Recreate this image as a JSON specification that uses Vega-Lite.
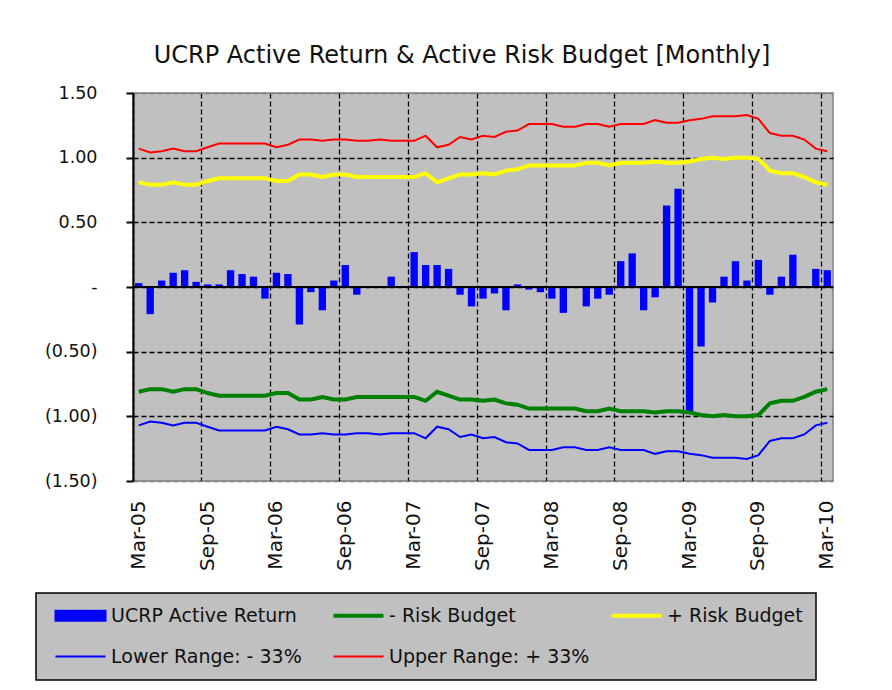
{
  "$schema": "https://vega.github.io/schema/vega-lite/v6.json",
  "width": 700,
  "height": 388,
  "autosize": {"type": "none"},
  "padding": {"left": 133, "top": 93, "right": 59, "bottom": 209},
  "background": "#FFFFFF",
  "title": {
    "text": "UCRP Active Return & Active Risk Budget [Monthly]",
    "font": "DejaVu Sans",
    "fontSize": 24,
    "fontWeight": "normal",
    "color": "#111111",
    "anchor": "middle",
    "baseline": "alphabetic",
    "dx": -21,
    "offset": -3
  },
  "data": {
    "values": [
      {"m": "Mar-05", "r": 0.03, "pos": 0.81, "neg": -0.81, "hi": 1.07, "lo": -1.07},
      {"m": "Apr-05", "r": -0.21, "pos": 0.79, "neg": -0.79, "hi": 1.04, "lo": -1.04},
      {"m": "May-05", "r": 0.05, "pos": 0.79, "neg": -0.79, "hi": 1.05, "lo": -1.05},
      {"m": "Jun-05", "r": 0.11, "pos": 0.81, "neg": -0.81, "hi": 1.07, "lo": -1.07},
      {"m": "Jul-05", "r": 0.13, "pos": 0.79, "neg": -0.79, "hi": 1.05, "lo": -1.05},
      {"m": "Aug-05", "r": 0.04, "pos": 0.79, "neg": -0.79, "hi": 1.05, "lo": -1.05},
      {"m": "Sep-05", "r": 0.02, "pos": 0.82, "neg": -0.82, "hi": 1.08, "lo": -1.08},
      {"m": "Oct-05", "r": 0.02, "pos": 0.84, "neg": -0.84, "hi": 1.11, "lo": -1.11},
      {"m": "Nov-05", "r": 0.13, "pos": 0.84, "neg": -0.84, "hi": 1.11, "lo": -1.11},
      {"m": "Dec-05", "r": 0.10, "pos": 0.84, "neg": -0.84, "hi": 1.11, "lo": -1.11},
      {"m": "Jan-06", "r": 0.08, "pos": 0.84, "neg": -0.84, "hi": 1.11, "lo": -1.11},
      {"m": "Feb-06", "r": -0.09, "pos": 0.84, "neg": -0.84, "hi": 1.11, "lo": -1.11},
      {"m": "Mar-06", "r": 0.11, "pos": 0.82, "neg": -0.82, "hi": 1.08, "lo": -1.08},
      {"m": "Apr-06", "r": 0.10, "pos": 0.82, "neg": -0.82, "hi": 1.10, "lo": -1.10},
      {"m": "May-06", "r": -0.29, "pos": 0.87, "neg": -0.87, "hi": 1.14, "lo": -1.14},
      {"m": "Jun-06", "r": -0.04, "pos": 0.87, "neg": -0.87, "hi": 1.14, "lo": -1.14},
      {"m": "Jul-06", "r": -0.18, "pos": 0.85, "neg": -0.85, "hi": 1.13, "lo": -1.13},
      {"m": "Aug-06", "r": 0.05, "pos": 0.87, "neg": -0.87, "hi": 1.14, "lo": -1.14},
      {"m": "Sep-06", "r": 0.17, "pos": 0.87, "neg": -0.87, "hi": 1.14, "lo": -1.14},
      {"m": "Oct-06", "r": -0.06, "pos": 0.85, "neg": -0.85, "hi": 1.13, "lo": -1.13},
      {"m": "Nov-06", "r": 0.00, "pos": 0.85, "neg": -0.85, "hi": 1.13, "lo": -1.13},
      {"m": "Dec-06", "r": 0.00, "pos": 0.85, "neg": -0.85, "hi": 1.14, "lo": -1.14},
      {"m": "Jan-07", "r": 0.08, "pos": 0.85, "neg": -0.85, "hi": 1.13, "lo": -1.13},
      {"m": "Feb-07", "r": 0.00, "pos": 0.85, "neg": -0.85, "hi": 1.13, "lo": -1.13},
      {"m": "Mar-07", "r": 0.27, "pos": 0.85, "neg": -0.85, "hi": 1.13, "lo": -1.13},
      {"m": "Apr-07", "r": 0.17, "pos": 0.88, "neg": -0.88, "hi": 1.17, "lo": -1.17},
      {"m": "May-07", "r": 0.17, "pos": 0.81, "neg": -0.81, "hi": 1.08, "lo": -1.08},
      {"m": "Jun-07", "r": 0.14, "pos": 0.84, "neg": -0.84, "hi": 1.10, "lo": -1.10},
      {"m": "Jul-07", "r": -0.06, "pos": 0.87, "neg": -0.87, "hi": 1.16, "lo": -1.16},
      {"m": "Aug-07", "r": -0.15, "pos": 0.87, "neg": -0.87, "hi": 1.14, "lo": -1.14},
      {"m": "Sep-07", "r": -0.09, "pos": 0.88, "neg": -0.88, "hi": 1.17, "lo": -1.17},
      {"m": "Oct-07", "r": -0.05, "pos": 0.87, "neg": -0.87, "hi": 1.16, "lo": -1.16},
      {"m": "Nov-07", "r": -0.18, "pos": 0.90, "neg": -0.90, "hi": 1.20, "lo": -1.20},
      {"m": "Dec-07", "r": 0.02, "pos": 0.91, "neg": -0.91, "hi": 1.21, "lo": -1.21},
      {"m": "Jan-08", "r": -0.02, "pos": 0.94, "neg": -0.94, "hi": 1.26, "lo": -1.26},
      {"m": "Feb-08", "r": -0.04, "pos": 0.94, "neg": -0.94, "hi": 1.26, "lo": -1.26},
      {"m": "Mar-08", "r": -0.09, "pos": 0.94, "neg": -0.94, "hi": 1.26, "lo": -1.26},
      {"m": "Apr-08", "r": -0.20, "pos": 0.94, "neg": -0.94, "hi": 1.24, "lo": -1.24},
      {"m": "May-08", "r": 0.00, "pos": 0.94, "neg": -0.94, "hi": 1.24, "lo": -1.24},
      {"m": "Jun-08", "r": -0.15, "pos": 0.96, "neg": -0.96, "hi": 1.26, "lo": -1.26},
      {"m": "Jul-08", "r": -0.09, "pos": 0.96, "neg": -0.96, "hi": 1.26, "lo": -1.26},
      {"m": "Aug-08", "r": -0.06, "pos": 0.94, "neg": -0.94, "hi": 1.24, "lo": -1.24},
      {"m": "Sep-08", "r": 0.20, "pos": 0.96, "neg": -0.96, "hi": 1.26, "lo": -1.26},
      {"m": "Oct-08", "r": 0.26, "pos": 0.96, "neg": -0.96, "hi": 1.26, "lo": -1.26},
      {"m": "Nov-08", "r": -0.18, "pos": 0.96, "neg": -0.96, "hi": 1.26, "lo": -1.26},
      {"m": "Dec-08", "r": -0.08, "pos": 0.97, "neg": -0.97, "hi": 1.29, "lo": -1.29},
      {"m": "Jan-09", "r": 0.63, "pos": 0.96, "neg": -0.96, "hi": 1.27, "lo": -1.27},
      {"m": "Feb-09", "r": 0.76, "pos": 0.96, "neg": -0.96, "hi": 1.27, "lo": -1.27},
      {"m": "Mar-09", "r": -0.98, "pos": 0.97, "neg": -0.97, "hi": 1.29, "lo": -1.29},
      {"m": "Apr-09", "r": -0.46, "pos": 0.99, "neg": -0.99, "hi": 1.30, "lo": -1.30},
      {"m": "May-09", "r": -0.12, "pos": 1.00, "neg": -1.00, "hi": 1.32, "lo": -1.32},
      {"m": "Jun-09", "r": 0.08, "pos": 0.99, "neg": -0.99, "hi": 1.32, "lo": -1.32},
      {"m": "Jul-09", "r": 0.20, "pos": 1.00, "neg": -1.00, "hi": 1.32, "lo": -1.32},
      {"m": "Aug-09", "r": 0.05, "pos": 1.00, "neg": -1.00, "hi": 1.33, "lo": -1.33},
      {"m": "Sep-09", "r": 0.21, "pos": 0.99, "neg": -0.99, "hi": 1.30, "lo": -1.30},
      {"m": "Oct-09", "r": -0.06, "pos": 0.90, "neg": -0.90, "hi": 1.19, "lo": -1.19},
      {"m": "Nov-09", "r": 0.08, "pos": 0.88, "neg": -0.88, "hi": 1.17, "lo": -1.17},
      {"m": "Dec-09", "r": 0.25, "pos": 0.88, "neg": -0.88, "hi": 1.17, "lo": -1.17},
      {"m": "Jan-10", "r": 0.00, "pos": 0.85, "neg": -0.85, "hi": 1.14, "lo": -1.14},
      {"m": "Feb-10", "r": 0.14, "pos": 0.81, "neg": -0.81, "hi": 1.07, "lo": -1.07},
      {"m": "Mar-10", "r": 0.13, "pos": 0.79, "neg": -0.79, "hi": 1.05, "lo": -1.05}
    ]
  },
  "layer": [
    {
      "mark": {"type": "bar", "width": {"band": 0.64}},
      "encoding": {
        "x": {
          "field": "m", "type": "ordinal", "sort": null, "title": null,
          "scale": {"paddingInner": 0, "paddingOuter": 0},
          "axis": {
            "values": ["Mar-05","Sep-05","Mar-06","Sep-06","Mar-07","Sep-07","Mar-08","Sep-08","Mar-09","Sep-09","Mar-10"],
            "bandPosition": 0,
            "labelAngle": -90,
            "labelAlign": "right",
            "labelBaseline": "middle",
            "labelFont": "DejaVu Sans",
            "labelFontSize": 20,
            "labelColor": "#111111",
            "labelPadding": 19,
            "ticks": false,
            "domain": false,
            "grid": true,
            "gridColor": "#000000",
            "gridDash": [5, 3],
            "gridWidth": 1.3
          }
        },
        "y": {
          "field": "r", "type": "quantitative", "title": null,
          "scale": {"domain": [-1.5, 1.5], "nice": false, "zero": false},
          "axis": {
            "values": [-1.5, -1, -0.5, 0, 0.5, 1, 1.5],
            "labelExpr": "datum.value == 0 ? '-\u2007\u00a0' : (datum.value < 0 ? '(' + format(-datum.value, '.2f') + ')' : format(datum.value, '.2f') + '\u00a0')",
            "labelFont": "DejaVu Sans",
            "labelFontSize": 17.5,
            "labelColor": "#111111",
            "labelPadding": 29,
            "tickSize": 7,
            "tickWidth": 2,
            "tickColor": "#000000",
            "domainColor": "#000000",
            "domainWidth": 2,
            "grid": true,
            "gridColor": {"condition": {"test": "abs(datum.value) == 1.5", "value": "#808080"}, "value": "#000000"},
            "gridDash": [5, 3],
            "gridWidth": 1.3
          }
        },
        "color": {
          "datum": "UCRP Active Return",
          "type": "nominal",
          "scale": {
            "domain": ["UCRP Active Return", "- Risk Budget", "+ Risk Budget", "Lower Range: - 33%", "Upper Range: + 33%"],
            "range": ["#0000FF", "#008000", "#FFFF00", "#0000FF", "#FF0000"]
          },
          "legend": {
            "title": null,
            "orient": "none",
            "legendX": -97,
            "legendY": 500,
            "direction": "horizontal",
            "columns": 3,
            "gridAlign": "all",
            "columnPadding": 13,
            "rowPadding": 21,
            "padding": 13,
            "fillColor": "#C0C0C0",
            "strokeColor": "#000000",
            "labelFont": "DejaVu Sans",
            "labelFontSize": 19,
            "labelColor": "#111111",
            "labelOffset": 36,
            "labelLimit": 400,
            "symbolSize": 400,
            "symbolOffset": 7,
            "encode": {
              "legend": {"update": {"strokeWidth": {"value": 1.5}}},
              "symbols": {
                "update": {
                  "shape": {"signal": "datum.value === 'UCRP Active Return' ? 'M-1,-0.5H4V0.5H-1Z' : 'M-1,0H4'"},
                  "fill": {"signal": "datum.value === 'UCRP Active Return' ? '#0000FF' : 'transparent'"},
                  "stroke": {"signal": "datum.value === 'UCRP Active Return' ? 'transparent' : scale('color', datum.value)"},
                  "strokeWidth": {"signal": "(datum.value === '- Risk Budget' || datum.value === '+ Risk Budget') ? 4 : 2"},
                  "opacity": {"value": 1}
                }
              }
            }
          }
        }
      }
    },
    {
      "mark": {"type": "line", "strokeWidth": 2},
      "encoding": {
        "x": {"field": "m", "type": "ordinal", "sort": null},
        "y": {"field": "hi", "type": "quantitative", "title": null},
        "color": {"datum": "Upper Range: + 33%", "type": "nominal"}
      }
    },
    {
      "mark": {"type": "line", "strokeWidth": 4},
      "encoding": {
        "x": {"field": "m", "type": "ordinal", "sort": null},
        "y": {"field": "pos", "type": "quantitative", "title": null},
        "color": {"datum": "+ Risk Budget", "type": "nominal"}
      }
    },
    {
      "mark": {"type": "line", "strokeWidth": 4},
      "encoding": {
        "x": {"field": "m", "type": "ordinal", "sort": null},
        "y": {"field": "neg", "type": "quantitative", "title": null},
        "color": {"datum": "- Risk Budget", "type": "nominal"}
      }
    },
    {
      "mark": {"type": "line", "strokeWidth": 2},
      "encoding": {
        "x": {"field": "m", "type": "ordinal", "sort": null},
        "y": {"field": "lo", "type": "quantitative", "title": null},
        "color": {"datum": "Lower Range: - 33%", "type": "nominal"}
      }
    },
    {
      "mark": {"type": "rule", "color": "#000000", "strokeWidth": 2},
      "encoding": {"y": {"datum": 0}}
    }
  ],
  "config": {
    "view": {"fill": "#C0C0C0", "stroke": "#808080", "strokeWidth": 1.5},
    "font": "DejaVu Sans"
  }
}
